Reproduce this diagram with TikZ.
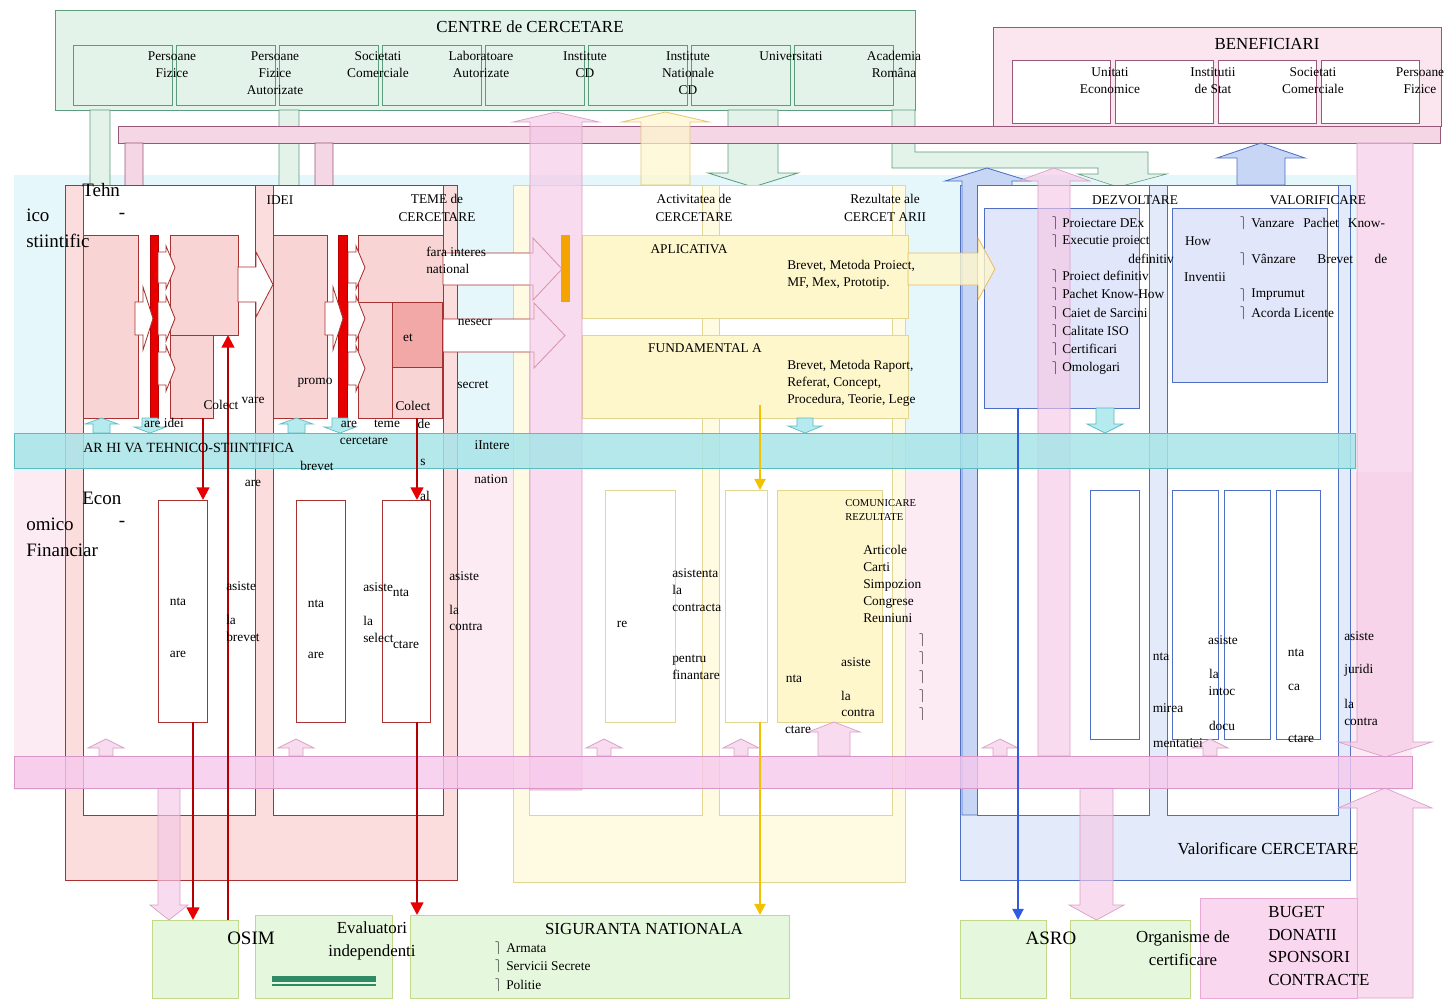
\documentclass[tikz,border=0pt]{standalone}
\usepackage{fontspec}
\setmainfont{Liberation Serif}
\usetikzlibrary{arrows.meta,calc}
\definecolor{CtrFill}{HTML}{E3F3E9}
\definecolor{CtrLine}{HTML}{5C9C7C}
\definecolor{BenFill}{HTML}{FBE6F0}
\definecolor{BenLine}{HTML}{98587A}
\definecolor{BarFill}{HTML}{F4D6E5}
\definecolor{CyanBg}{HTML}{E6F7FB}
\definecolor{PinkBg}{HTML}{FDEBF4}
\definecolor{ArhFill}{HTML}{A8E4E8}
\definecolor{ArhLine}{HTML}{5BBCC2}
\definecolor{BandFill}{HTML}{F6C8EC}
\definecolor{BandLine}{HTML}{D796C6}
\definecolor{RedFill}{HTML}{FCDDDD}
\definecolor{RedLine}{HTML}{A83232}
\definecolor{RedCell}{HTML}{F9D4D4}
\definecolor{RedDark}{HTML}{F3A8A8}
\definecolor{ArrRed}{HTML}{E80000}
\definecolor{LineRed}{HTML}{B40000}
\definecolor{YelFill}{HTML}{FFFBE3}
\definecolor{YelLine}{HTML}{E2D690}
\definecolor{YelCell}{HTML}{FFF7CC}
\definecolor{ArrYel}{HTML}{F2C200}
\definecolor{OrangeBar}{HTML}{F5A300}
\definecolor{BluFill}{HTML}{E3EBFA}
\definecolor{BluLine}{HTML}{4E6FC4}
\definecolor{BluCell}{HTML}{E2E6FA}
\definecolor{BluCol}{HTML}{C6D6F4}
\definecolor{ArrBlue}{HTML}{2F5CE0}
\definecolor{BotFill}{HTML}{E5F8DD}
\definecolor{BotLine}{HTML}{C2D98A}
\definecolor{BugFill}{HTML}{F9D7EE}
\definecolor{BugLine}{HTML}{E9A9D6}
\definecolor{PinkArr}{HTML}{F5C8E6}
\definecolor{PinkArrLine}{HTML}{D8A0C8}
\definecolor{CyanArr}{HTML}{B5EAEE}
\definecolor{GreenBar}{HTML}{2E8B66}
% box given by its corners, in pixel units
\newcommand{\areacell}[6]{%
  \node[#1,minimum width={((#5)-(#3))*0.025cm},minimum height={((#6)-(#4))*0.025cm}] (#2) at ({((#3)+(#5))/2},{((#4)+(#6))/2}) {};}
% vertical block arrow: style, x1, x2, y start, y tip, head overhang, y head base
\newcommand{\vblk}[7]{%
  \draw[#1] (#2,#4) -- (#2,#7) -- ({(#2)-(#6)},#7) -- ({((#2)+(#3))/2},#5) -- ({(#3)+(#6)},#7) -- (#3,#7) -- (#3,#4) -- cycle;}
% horizontal block arrow: style, y1, y2, x start, x tip, head overhang, x head base
\newcommand{\hblk}[7]{%
  \draw[#1] (#4,#2) -- (#7,#2) -- (#7,{(#2)-(#6)}) -- (#5,{((#2)+(#3))/2}) -- (#7,{(#3)+(#6)}) -- (#7,#3) -- (#4,#3) -- cycle;}
\tikzset{
  cellbox/.style={rectangle,draw,inner sep=0pt,outer sep=0pt,line width=0.6pt},
  ctrbox/.style={cellbox,draw=CtrLine,fill=CtrFill},
  benbox/.style={cellbox,draw=BenLine,fill=BenFill},
  bencell/.style={cellbox,draw=BenLine,fill=white},
  redgrp/.style={cellbox,draw=RedLine,fill=RedFill},
  whitered/.style={cellbox,draw=RedLine,fill=white},
  redcell/.style={cellbox,draw=RedLine,fill=RedCell},
  reddark/.style={cellbox,draw=RedLine,fill=RedDark},
  redbar/.style={cellbox,draw=LineRed,fill=ArrRed},
  yelgrp/.style={cellbox,draw=YelLine,fill=YelFill},
  whiteyel/.style={cellbox,draw=YelLine,fill=white},
  yelcell/.style={cellbox,draw=YelLine,fill=YelCell},
  blugrp/.style={cellbox,draw=BluLine,fill=BluFill},
  whiteblu/.style={cellbox,draw=BluLine,fill=white},
  blucell/.style={cellbox,draw=BluLine,fill=BluCell},
  orgbar/.style={cellbox,draw=OrangeBar,fill=OrangeBar},
  arhband/.style={cellbox,draw=ArhLine,fill=ArhFill,fill opacity=0.85},
  pinkband/.style={cellbox,draw=BandLine,fill=BandFill,fill opacity=0.8},
  botcell/.style={cellbox,draw=BotLine,fill=BotFill},
  bugcell/.style={cellbox,draw=BugLine,fill=BugFill},
  grnblk/.style={draw=CtrLine,fill=CtrFill,line width=0.6pt},
  pinkdn/.style={draw=BenLine,fill=BarFill,line width=0.6pt},
  pinkcol/.style={draw=PinkArrLine,fill=PinkArr,fill opacity=0.65,line width=0.5pt},
  yelcol/.style={draw=YelLine!80!orange,fill=YelCell,fill opacity=0.7,line width=0.6pt},
  blucol/.style={draw=BluLine,fill=BluCol,line width=0.6pt},
  cyanblk/.style={draw=ArhLine,fill=CyanArr,line width=0.5pt},
  whtblk/.style={draw=RedLine,fill=white,line width=0.6pt},
  yelblk/.style={draw=YelLine!70!orange,fill=YelCell,fill opacity=0.8,line width=0.6pt},
  lbl/.style={inner sep=0pt,font=\fontsize{9.5}{12.2}\selectfont,align=left},
  lblc/.style={lbl,align=center},
  ttl/.style={inner sep=0pt,font=\fontsize{12}{16}\selectfont,align=center},
  bigl/.style={inner sep=0pt,font=\fontsize{13.5}{17}\selectfont},
  tinyl/.style={inner sep=0pt,font=\fontsize{7.5}{10}\selectfont,align=left},
  redarr/.style={draw=LineRed,line width=1.6pt,-{Triangle[length=9pt,width=9pt,color=ArrRed]}},
  yelarr/.style={draw=ArrYel,line width=1.4pt,-{Triangle[length=8pt,width=8pt]}},
  bluarr/.style={draw=ArrBlue,line width=1.4pt,-{Triangle[length=8pt,width=8pt]}}
}
\begin{document}
\begin{tikzpicture}[x=0.025cm,y=-0.025cm]
  \useasboundingbox (0,0) rectangle (1450,998);

  % background bands
  \fill[CyanBg] (14,175) rectangle (1356,472);
  \fill[PinkBg] (14,472) rectangle (1412,790);

  % centre de cercetare
  \areacell{ctrbox}{ctr}{55}{10}{915}{110}
  \foreach \i in {0,...,7} {\areacell{ctrbox}{cc\i}{73+103*\i}{45}{172+103*\i}{105}}
  \fill[CtrFill,draw=CtrLine] (892,110) -- (915,110) -- (915,152) -- (1148,152) -- (1148,174) -- (1167,174) -- (1118,187) -- (1078,174) -- (1098,174) -- (1098,168) -- (892,168) -- cycle;
  \vblk{grnblk}{90}{110}{110}{236}{9}{222}
  \vblk{grnblk}{279}{299}{110}{236}{9}{222}
  \vblk{grnblk}{728}{778}{110}{187}{20}{173}

  % beneficiari
  \areacell{benbox}{ben}{993}{27}{1441}{126}
  \foreach \i in {0,...,3} {\areacell{bencell}{bc\i}{1012+103*\i}{60}{1110+103*\i}{123}}
  \draw[fill=BarFill,draw=BenLine,line width=0.6pt] (118,126) rectangle (1440,143);
  \vblk{pinkdn}{125}{143}{143}{236}{8}{222}
  \vblk{pinkdn}{315}{333}{143}{236}{8}{222}

  % groups
  \areacell{redgrp}{tehG}{65}{185}{457}{880}
  \areacell{whitered}{tehL}{83}{185}{255}{815}
  \areacell{whitered}{tehR}{273}{185}{443}{815}
  \areacell{yelgrp}{actG}{513}{185}{905}{882}
  \areacell{whiteyel}{actL}{529}{185}{702}{815}
  \areacell{whiteyel}{actR}{719}{185}{892}{815}
  \areacell{blugrp}{valG}{960}{185}{1350}{880}
  \vblk{blucol}{962}{1012}{815}{168}{17}{181}
  \areacell{whiteblu}{valL}{977}{185}{1149}{815}
  \areacell{whiteblu}{valR}{1167}{185}{1338}{815}

  % tehnic boxes
  \areacell{redcell}{tlA}{83}{235}{138}{418}
  \areacell{redcell}{tlB}{170}{235}{238}{335}
  \areacell{redcell}{tlC}{170}{335}{213}{418}
  \areacell{redbar}{tlR}{150}{235}{158}{418}
  \areacell{redcell}{trA}{273}{235}{327}{418}
  \areacell{redcell}{trB}{358}{235}{443}{302}
  \areacell{redcell}{trC}{358}{302}{392}{418}
  \areacell{reddark}{trD}{392}{302}{442}{367}
  \areacell{redcell}{trE}{392}{367}{442}{418}
  \areacell{redbar}{trR}{338}{235}{347}{418}
  \foreach \d in {0,190} {
    \hblk{whtblk}{302}{335}{135+\d}{153+\d}{15}{143+\d}
    \hblk{whtblk}{252}{283}{158+\d}{175+\d}{6}{166+\d}
    \hblk{whtblk}{302}{335}{158+\d}{175+\d}{6}{166+\d}
    \hblk{whtblk}{352}{385}{158+\d}{175+\d}{6}{166+\d}
  }
  \hblk{whtblk}{267}{302}{238}{273}{15}{256}
  \hblk{whtblk}{253}{285}{443}{562}{15}{533}
  \hblk{whtblk}{319}{352}{443}{565}{16}{534}
  \areacell{whitered}{ecoA}{158}{500}{207}{722}
  \areacell{whitered}{ecoB}{296}{500}{345}{722}
  \areacell{whitered}{ecoC}{382}{500}{430}{722}

  % activitate boxes
  \areacell{yelcell}{apl}{582}{235}{908}{318}
  \areacell{yelcell}{fun}{582}{335}{908}{418}
  \areacell{whiteyel}{ylA}{605}{490}{675}{722}
  \areacell{whiteyel}{ylB}{725}{490}{767}{722}
  \areacell{yelcell}{ylC}{777}{490}{882}{722}

  % valorificare boxes
  \areacell{blucell}{dez}{984}{208}{1139}{408}
  \areacell{blucell}{val}{1172}{208}{1327}{382}
  \areacell{whiteblu}{bvA}{1090}{490}{1139}{739}
  \areacell{whiteblu}{bvB}{1172}{490}{1218}{739}
  \areacell{whiteblu}{bvC}{1224}{490}{1270}{739}
  \areacell{whiteblu}{bvD}{1276}{490}{1320}{739}
  \hblk{yelblk}{253}{285}{908}{995}{15}{978}

  % columns
  \vblk{pinkcol}{530}{582}{790}{112}{17}{122}
  \vblk{yelcol}{641}{690}{185}{112}{19}{122}
  \vblk{pinkcol}{1038}{1070}{756}{168}{20}{181}
  \vblk{blucol}{1237}{1285}{185}{143}{20}{158}
  \vblk{pinkcol}{1357}{1413}{143}{757}{19}{742}
  \vblk{pinkcol}{1357}{1413}{998}{788}{19}{808}
  \vblk{pinkcol}{158}{180}{788}{920}{8}{905}
  \vblk{pinkcol}{1080}{1113}{788}{920}{11}{905}
  \foreach \c in {106,296,604,741,1000,1210} {\vblk{pinkcol}{\c-7}{\c+7}{756}{739}{11}{748}}
  \vblk{pinkcol}{818}{850}{756}{722}{10}{732}
  \vblk{cyanblk}{93}{110}{433}{418}{8}{424}
  \vblk{cyanblk}{142}{158}{418}{433}{8}{427}
  \vblk{cyanblk}{288}{305}{433}{418}{8}{424}
  \vblk{cyanblk}{332}{348}{418}{433}{8}{427}
  \vblk{cyanblk}{797}{813}{418}{433}{9}{426}
  \vblk{cyanblk}{1096}{1114}{408}{433}{9}{424}
  \areacell{orgbar}{orb}{561}{235}{569}{301}

  % bands
  \areacell{arhband}{arh}{14}{433}{1355}{468}
  \areacell{pinkband}{band}{14}{756}{1412}{788}

  % bottom boxes
  \areacell{botcell}{osim}{152}{920}{238}{998}
  \areacell{botcell}{eval}{255}{915}{392}{998}
  \areacell{botcell}{sig}{410}{915}{789}{998}
  \areacell{botcell}{asro}{960}{920}{1046}{998}
  \areacell{botcell}{orga}{1070}{920}{1190}{998}
  \areacell{bugcell}{bug}{1200}{898}{1357}{998}
  \fill[GreenBar] (272,976) rectangle (376,982);
  \draw[GreenBar,line width=1pt] (272,985) -- (376,985);

  % connectors
  \coordinate (idA) at (203,418);
  \coordinate (osA) at (193,722);
  \coordinate (brv) at (228,335);
  \coordinate (idB) at (417,418);
  \coordinate (osB) at (417,722);
  \coordinate (fnd) at (760,405);
  \coordinate (fnd2) at (760,722);
  \coordinate (dzl) at (1018,408);
  \draw[redarr] (idA) -- (idA |- ecoA.north);
  \draw[redarr] (osA) -- (osA |- osim.north);
  \draw[redarr] (brv |- osim.north) -- (brv);
  \draw[redarr] (idB) -- (idB |- ecoC.north);
  \draw[redarr] (osB) -- (osB |- sig.north);
  \draw[yelarr] (fnd) -- (fnd |- ylB.north);
  \draw[yelarr] (fnd2) -- (fnd2 |- sig.north);
  \draw[bluarr] (dzl) -- (dzl |- asro.north);

  % top labels
  \node[ttl] (ctrT) at (530,27) {CENTRE de CERCETARE};
  \foreach \x/\t [count=\k] in {172/{Persoane\\Fizice},275/{Persoane\\Fizice\\Autorizate},378/{Societati\\Comerciale},481/{Laboratoare\\Autorizate},585/{Institute\\CD},688/{Institute\\Nationale\\CD},791/{Universitati},894/{Academia\\Româna}}
    {\node[lblc,anchor=north] (ccl\k) at (\x,51) {\t};}
  \node[ttl] (benT) at (1267,44) {BENEFICIARI};
  \foreach \x/\t [count=\k] in {1110/{Unitati\\Economice},1213/{Institutii\\de Stat},1313/{Societati\\Comerciale},1420/{Persoane\\Fizice}}
    {\node[lblc,anchor=north] (bcl\k) at (\x,67) {\t};}

  % tehnico labels
  \node[bigl,anchor=west] (tehn) at (82,190) {Tehn};
  \node[bigl,anchor=west] (ico) at (26,215) {ico};
  \node[bigl] (dsh1) at (122,216) {-};
  \node[bigl,anchor=west] (stf) at (26,241) {stiintific};
  \node[lbl] (idei) at (280,200) {IDEI};
  \node[lblc] (teme) at (437,208) {TEME de\\CERCETARE};
  \node[lbl,anchor=west] (fara) at (426,260) {fara interes\\national};
  \node[lbl] (nesc) at (475,322) {nesecr};
  \node[lbl] (secr) at (473,385) {secret};
  \node[lbl] (etl) at (408,338) {et};
  \node[lbl] (promo) at (315,383) {promo};
  \node[lbl] (col1) at (221,405) {Colect};
  \node[lbl] (vare) at (253,400) {vare};
  \node[lbl] (col2) at (413,406) {Colect};
  \node[lbl] (aidei) at (164,423) {are idei};
  \node[lbl] (are1) at (349,424) {are};
  \node[lbl] (teme2) at (387,424) {teme};
  \node[lbl] (de1) at (424,424) {de};
  \node[lbl] (cerc) at (364,441) {cercetare};
  \node[lbl] (brv1) at (317,466) {brevet};
  \node[lbl] (s1) at (423,462) {s};
  \node[lbl] (are2) at (253,483) {are};
  \node[lbl] (al1) at (425,496) {al};
  \node[inner sep=0pt,font=\fontsize{10}{12}\selectfont,anchor=west] (arhT) at (83,448) {AR HI VA TEHNICO-STIINTIFICA};
  \node[lbl] (intr) at (492,445) {iIntere};
  \node[lbl] (natn) at (491,479) {nation};

  % economico labels
  \node[bigl,anchor=west] (econ) at (82,498) {Econ};
  \node[bigl,anchor=west] (omico) at (26,524) {omico};
  \node[bigl] (dsh2) at (122,524) {-};
  \node[bigl,anchor=west] (finc) at (26,550) {Financiar};
  \node[lbl] (ntaA) at (178,602) {nta};
  \node[lbl] (areA) at (178,654) {are};
  \node[lbl] (ntaB) at (316,604) {nta};
  \node[lbl] (areB) at (316,655) {are};
  \node[lbl] (ntaC) at (401,593) {nta};
  \node[lbl] (ctrC) at (406,645) {ctare};
  \node[lbl,anchor=west] (as1) at (226,586) {asiste};
  \node[lbl,anchor=west] (la1) at (226,620) {la};
  \node[lbl,anchor=west] (bv1) at (226,637) {brevet};
  \node[lbl,anchor=west] (as2) at (363,587) {asiste};
  \node[lbl,anchor=west] (la2) at (363,621) {la};
  \node[lbl,anchor=west] (sl2) at (363,638) {select};
  \node[lbl,anchor=west] (as3) at (449,576) {asiste};
  \node[lbl,anchor=west] (la3) at (449,610) {la};
  \node[lbl,anchor=west] (ct3) at (449,627) {contra};

  % activitate labels
  \node[lblc] (actT) at (694,208) {Activitatea de\\CERCETARE};
  \node[lblc] (rezT) at (885,208) {Rezultate ale\\CERCET ARII};
  \node[lbl] (aplT) at (689,249) {APLICATIVA};
  \node[lbl,anchor=west] (aplR) at (787,275) {Brevet, Metoda Proiect,\\MF, Mex, Prototip.};
  \node[lbl] (funT) at (705,348) {FUNDAMENTAL A};
  \node[lbl,anchor=west] (funR) at (787,383) {Brevet, Metoda Raport,\\Referat, Concept,\\Procedura, Teorie, Lege};
  \node[lbl] (re1) at (622,624) {re};
  \node[lbl,anchor=west] (asct) at (672,590) {asistenta\\la\\contracta};
  \node[lbl,anchor=west] (pfin) at (672,667) {pentru\\finantare};
  \node[tinyl,anchor=west] (comT) at (845,510) {COMUNICARE\\REZULTATE};
  \node[lbl,anchor=west] (artc) at (863,584) {Articole\\Carti\\Simpozion\\Congrese\\Reuniuni};
  \foreach \y [count=\k] in {640,658,677,696,714} {\node[lbl] (cm\k) at (922,\y) {$\rceil$};}
  \node[lbl] (as4) at (856,662) {asiste};
  \node[lbl] (nta4) at (794,679) {nta};
  \node[lbl] (la4) at (846,696) {la};
  \node[lbl] (ct4) at (858,713) {contra};
  \node[lbl] (ctr4) at (798,730) {ctare};

  % valorificare labels
  \node[lbl] (dezT) at (1135,200) {DEZVOLTARE};
  \node[lbl] (valT) at (1318,200) {VALORIFICARE};
  \foreach \t/\y [count=\k] in {Proiectare DEx/223,Executie proiect/241,Proiect definitiv/276,Pachet Know-How/294,Caiet de Sarcini/313,Calitate ISO/331,Certificari/349,Omologari/368} {
    \node[lbl,anchor=west] (dzi\k) at (1062,\y) {\t};
    \node[lbl] (dzm\k) at (1055,\y) {$\rceil$};
  }
  \node[lbl,anchor=east] (dzdef) at (1174,259) {definitiv};
  \foreach \y [count=\k] in {223,259,295,313} {\node[lbl] (vm\k) at (1243,\y) {$\rceil$};}
  \node[lbl,anchor=west] (vl1) at (1251,223) {Vanzare\hspace{4pt} Pachet\hspace{4pt} Know-};
  \node[lbl] (vl2) at (1198,241) {How};
  \node[lbl,anchor=west] (vl3) at (1251,259) {Vânzare\hspace{13pt} Brevet\hspace{13pt} de};
  \node[lbl] (vl4) at (1205,277) {Inventii};
  \node[lbl,anchor=west] (vl5) at (1251,295) {Imprumut};
  \node[lbl,anchor=west] (vl6) at (1251,313) {Acorda Licente};
  \node[lbl] (nta5) at (1161,657) {nta};
  \node[lbl] (mir5) at (1168,708) {mirea};
  \node[lbl] (mnt5) at (1178,743) {mentatiei};
  \node[lbl] (as6) at (1223,640) {asiste};
  \node[lbl] (la6) at (1214,674) {la};
  \node[lbl] (int6) at (1222,691) {intoc};
  \node[lbl] (doc6) at (1222,726) {docu};
  \node[lbl] (nta7) at (1296,653) {nta};
  \node[lbl] (ca7) at (1294,687) {ca};
  \node[lbl] (ct7) at (1301,739) {ctare};
  \node[lbl,anchor=west] (as8) at (1344,636) {asiste};
  \node[lbl,anchor=west] (jr8) at (1344,670) {juridi};
  \node[lbl,anchor=west] (la8) at (1344,704) {la};
  \node[lbl,anchor=west] (ct8) at (1344,722) {contra};
  \node[ttl] (valC) at (1268,849) {Valorificare CERCETARE};

  % bottom labels
  \node[bigl] (osimT) at (251,938) {OSIM};
  \node[ttl] (evalT) at (372,941) {Evaluatori\\independenti};
  \node[ttl] (sigT) at (644,929) {SIGURANTA NATIONALA};
  \foreach \t/\y [count=\k] in {Armata/948,Servicii Secrete/966,Politie/985} {
    \node[lbl,anchor=west] (sgi\k) at (506,\y) {\t};
    \node[lbl] (sgm\k) at (498,\y) {$\rceil$};
  }
  \node[bigl] (asroT) at (1051,938) {ASRO};
  \node[ttl] (orgT) at (1183,948) {Organisme de\\certificare};
  \node[inner sep=0pt,font=\fontsize{12}{16}\selectfont,align=left,anchor=west] (bugT) at (1268,946) {BUGET\\DONATII\\SPONSORI\\CONTRACTE};
\end{tikzpicture}
\end{document}
